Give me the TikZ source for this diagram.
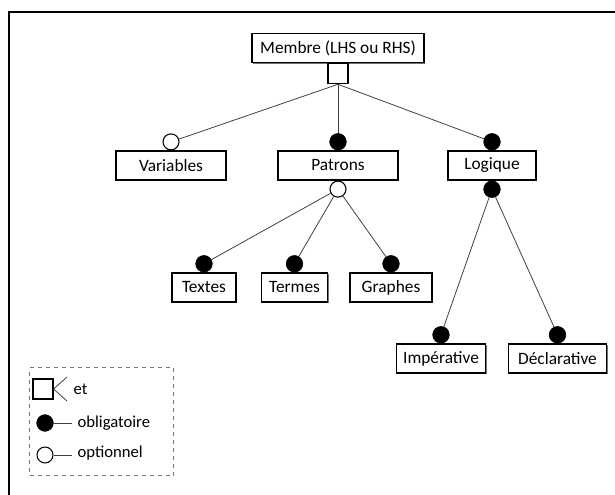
\documentclass[tikz,border=0pt]{standalone}
\usepackage{fontspec}
\setmainfont{Carlito}
\usetikzlibrary{shadows}

\tikzset{
  every box/.style={draw, line width=0.9pt, fill=white, inner sep=0pt,
    minimum height=21.75pt, font=\fontsize{13}{15}\selectfont,
    drop shadow={shadow xshift=0.9pt, shadow yshift=-0.9pt, fill=black!55, opacity=1}},
  and box/.style={draw, line width=0.9pt, fill=white, inner sep=0pt, minimum size=15pt},
  mandatory/.style={circle, draw, fill=black, inner sep=0pt, minimum size=12.5pt},
  optional/.style={circle, draw, fill=white, line width=0.8pt, inner sep=0pt, minimum size=12pt},
  link/.style={draw=black!75, line width=0.6pt},
  legend text/.style={anchor=west, inner sep=4pt, font=\fontsize{12.5}{15}\selectfont},
}

\begin{document}
\begin{tikzpicture}[x=0.75pt, y=-0.75pt]

\useasboundingbox (0,0) rectangle (615,495);
\draw [line width=1.5pt] (9,495) -- (9,12) -- (615,12);

%root and its and-square
\node [every box, minimum width=129pt] (membre) at (338,48) {Membre (LHS ou RHS)};
\node [and box, anchor=north] (et) at (membre.south) {};

%first level
\foreach \n/\t/\x/\w in {variables/Variables/171/82.5, patrons/Patrons/338/90, logique/Logique/492/66}
	\node [every box, minimum width=\w pt] (\n) at (\x,165.5) {\t};

\node [optional, anchor=south] (variables-top) at (variables.north) {};
\node [mandatory, anchor=south] (patrons-top) at (patrons.north) {};
\node [mandatory, anchor=south] (logique-top) at (logique.north) {};
\node [optional, anchor=north] (patrons-bottom) at (patrons.south) {};
\node [mandatory, anchor=north] (logique-bottom) at (logique.south) {};

%second level
\foreach \n/\t/\x/\w in {textes/Textes/204/48, termes/Termes/294.5/50, graphes/Graphes/391/61.5}
	\node [every box, minimum width=\w pt] (\n) at (\x,287.5) {\t};
\foreach \n/\t/\x/\w in {imperative/Impérative/441/67, declarative/Déclarative/557.5/74}
	\node [every box, minimum width=\w pt] (\n) at (\x,358.5) {\t};

\foreach \n in {textes, termes, graphes, imperative, declarative}
	\node [mandatory, anchor=south] (\n-top) at (\n.north) {};

%drawing part
\foreach \c in {variables, patrons, logique}
	\draw [link] (et.south) -- (\c-top);
\foreach \c in {textes, termes, graphes}
	\draw [link] (patrons-bottom) -- (\c-top);
\foreach \c in {imperative, declarative}
	\draw [link] (logique-bottom) -- (\c-top);

%legend
\node [draw=black!55, dashed, line width=0.8pt, minimum width=108pt, minimum height=81pt,
	anchor=north west] (legend) at (29,367) {};

\node [and box] (legend-et) at (43,389) {};
\coordinate (et-up) at (67,377);
\coordinate (et-down) at (67,401);
\draw [link] (et-up) -- (legend-et.east) -- (et-down);
\node [legend text] (et-label) at (68,389) {et};

\node [mandatory] (legend-mandatory) at (45,423) {};
\node [legend text] (mandatory-label) at (72,423) {obligatoire};
\draw [link] (legend-mandatory) -- (mandatory-label.west);

\node [optional] (legend-optional) at (45,455) {};
\node [legend text] (optional-label) at (72,453) {optionnel};
\draw [link] (legend-optional) -- (optional-label.west |- legend-optional);

\end{tikzpicture}
\end{document}
